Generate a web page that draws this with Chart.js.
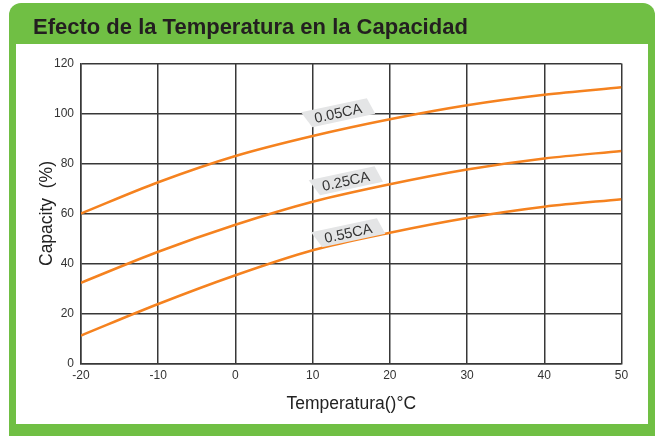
<!DOCTYPE html>
<html>
<head>
<meta charset="utf-8">
<script src="https://cdn.jsdelivr.net/npm/chart.js@4.4.1/dist/chart.umd.min.js"></script>
<style>
  html, body { margin: 0; padding: 0; background: #fff; }
  #wrap { width: 658px; height: 436px; }
</style>
</head>
<body>
<div id="wrap"><canvas id="capChart" width="658" height="436"></canvas></div>
<script>
const temps = [-20, -10, 0, 10, 20, 30, 40, 50];
const cap005 = [60, 72.5, 83, 91, 97.7, 103.3, 107.5, 110.5];
const cap025 = [32.3, 44.7, 55.5, 64.7, 71.7, 77.6, 82, 85];
const cap055 = [11.2, 23.8, 35.3, 45.3, 52.3, 58.2, 62.7, 65.7];
const seriesNames = ["0.05CA", "0.25CA", "0.55CA"];
// where each curve's tag sits (in data units)
const tagX = [13.3, 14.3, 14.6];
const tagY = [100.2, 73, 52.2];

const GREEN = "#70bf44";
const ORANGE = "#f5821f";
const GRID = "#383838";

const toPoints = (vals) => vals.map((v, i) => ({ x: temps[i], y: v }));

const framePlugin = {
  id: "frame",
  beforeDraw(chart) {
    const ctx = chart.ctx;
    ctx.save();
    ctx.fillStyle = "#fff";
    ctx.fillRect(0, 0, chart.width, chart.height);
    ctx.fillStyle = GREEN;
    ctx.beginPath();
    ctx.roundRect(9, 3, 646, 433, [12, 12, 0, 0]);
    ctx.fill();
    ctx.fillStyle = "#fff";
    ctx.fillRect(16, 44, 632, 380);
    ctx.fillStyle = "#231f20";
    ctx.font = "bold 22px 'Liberation Sans', Arial, sans-serif";
    ctx.textBaseline = "middle";
    ctx.fillText("Efecto de la Temperatura en la Capacidad", 33, 28);
    ctx.restore();
  },
};

const tagPlugin = {
  id: "curveTags",
  afterDatasetsDraw(chart) {
    const ctx = chart.ctx;
    const xs = chart.scales.x;
    const ys = chart.scales.y;
    ctx.save();
    ctx.font = "14.5px 'Liberation Sans', Arial, sans-serif";
    seriesNames.forEach((name, i) => {
      const px = xs.getPixelForValue(tagX[i]);
      const py = ys.getPixelForValue(tagY[i]);
      const w = ctx.measureText(name).width + 10;
      const h = 17;
      ctx.save();
      ctx.translate(px, py);
      ctx.rotate(-12 * Math.PI / 180);
      ctx.fillStyle = "#e4e5e6";
      ctx.beginPath();
      ctx.moveTo(-w / 2 - 7, -h / 2);
      ctx.lineTo(w / 2 + 2, -h / 2);
      ctx.lineTo(w / 2 + 7, h / 2);
      ctx.lineTo(-w / 2 + 1, h / 2);
      ctx.closePath();
      ctx.fill();
      ctx.fillStyle = "#333";
      ctx.textAlign = "center";
      ctx.textBaseline = "middle";
      ctx.fillText(name, 0, 1);
      ctx.restore();
    });
    ctx.restore();
  },
};

const lineSet = (label, vals) => ({
  label: label,
  data: toPoints(vals),
  borderColor: ORANGE,
  borderWidth: 2.5,
  pointRadius: 0,
  cubicInterpolationMode: "monotone",
  fill: false,
});

new Chart(document.getElementById("capChart"), {
  type: "line",
  data: {
    datasets: [
      lineSet(seriesNames[0], cap005),
      lineSet(seriesNames[1], cap025),
      lineSet(seriesNames[2], cap055),
    ],
  },
  options: {
    responsive: false,
    animation: false,
    layout: { padding: { left: 16, top: 63.5, right: 36.5, bottom: 12 } },
    plugins: {
      legend: { display: false },
      tooltip: { enabled: false },
    },
    scales: {
      x: {
        type: "linear",
        min: -20,
        max: 50,
        afterFit: (scale) => { scale.height = 60.5; },
        ticks: {
          stepSize: 10,
          padding: 5,
          color: "#333",
          font: { family: "'Liberation Sans', Arial, sans-serif", size: 12 },
          maxRotation: 0,
        },
        grid: { color: GRID, lineWidth: 1.5, drawTicks: false },
        border: { color: GRID, width: 1.5 },
        title: {
          display: true,
          text: "Temperatura()°C",
          color: "#222",
          font: { family: "'Liberation Sans', Arial, sans-serif", size: 17.5, lineHeight: 1 },
          padding: { top: 0, bottom: 11.5 },
        },
      },
      y: {
        min: 0,
        max: 120,
        afterFit: (scale) => { scale.width = 65; },
        ticks: {
          stepSize: 20,
          padding: 7,
          color: "#333",
          font: { family: "'Liberation Sans', Arial, sans-serif", size: 12 },
        },
        grid: { color: GRID, lineWidth: 1.5, drawTicks: false },
        border: { color: GRID, width: 1.5 },
        title: {
          display: true,
          text: "Capacity  (%)",
          color: "#222",
          font: { family: "'Liberation Sans', Arial, sans-serif", size: 17.5, lineHeight: 1 },
          padding: { top: 22.5, bottom: 0 },
        },
      },
    },
  },
  plugins: [framePlugin, tagPlugin],
});
</script>
</body>
</html>
